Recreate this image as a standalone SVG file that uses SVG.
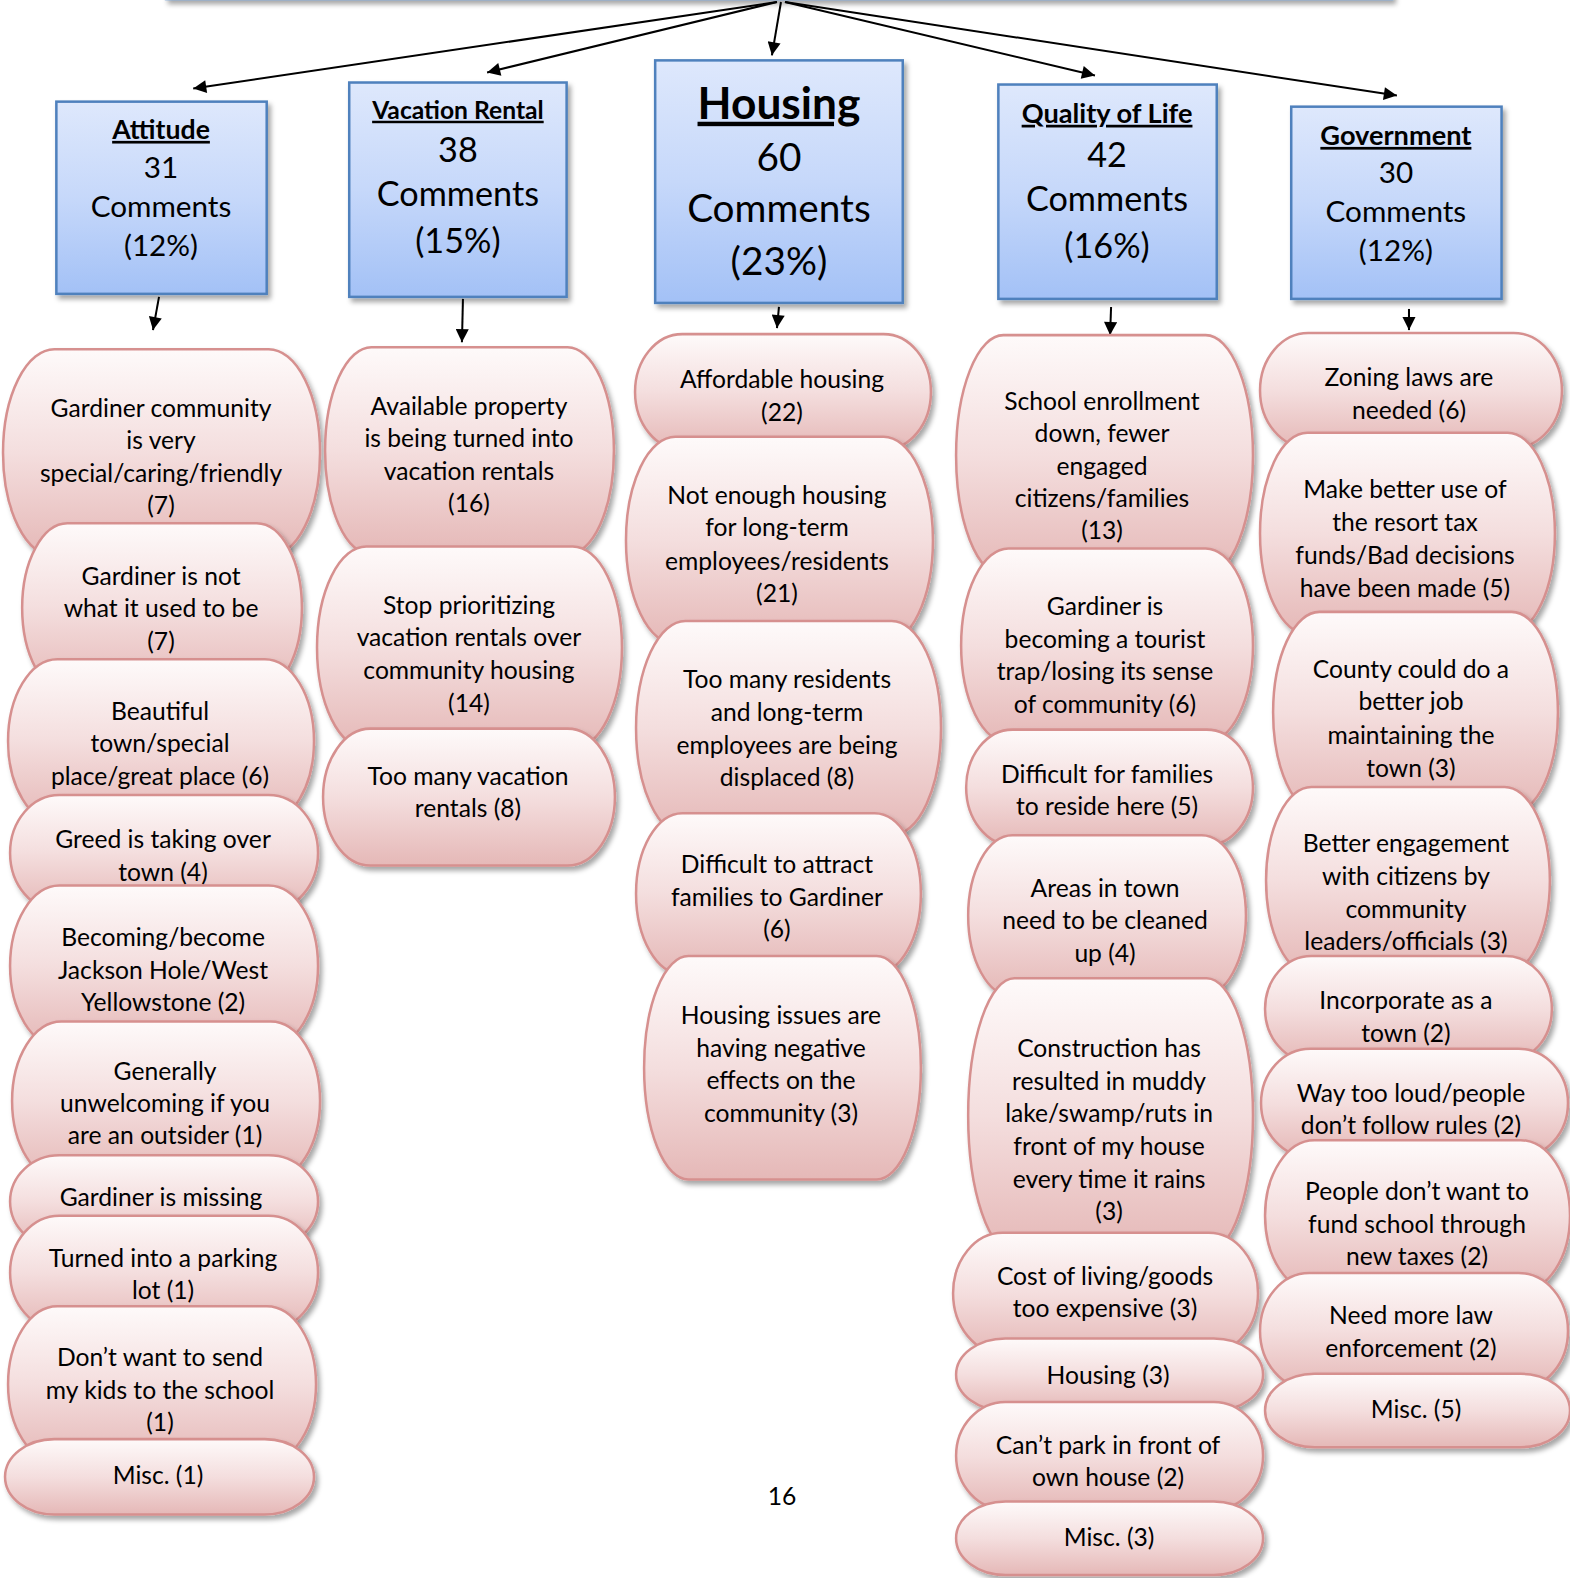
<svg xmlns="http://www.w3.org/2000/svg" width="1570" height="1578" viewBox="0 0 1570 1578">
<defs>
<linearGradient id="pg" x1="0" y1="0" x2="0" y2="1">
<stop offset="0" stop-color="#fefafa"/>
<stop offset="0.5" stop-color="#f4dede"/>
<stop offset="1" stop-color="#e5b8b7"/>
</linearGradient>
<linearGradient id="bg" x1="0" y1="0" x2="0" y2="1">
<stop offset="0" stop-color="#dee8fc"/>
<stop offset="0.5" stop-color="#c6d8fa"/>
<stop offset="1" stop-color="#a3c1f6"/>
</linearGradient>
<filter id="sh" x="-10%" y="-10%" width="130%" height="130%">
<feDropShadow dx="3" dy="4" stdDeviation="2.5" flood-color="#000" flood-opacity="0.35"/>
</filter>
<marker id="ah" viewBox="0 0 10 10" refX="10" refY="5" markerWidth="15" markerHeight="13" markerUnits="userSpaceOnUse" orient="auto">
<path d="M0,0 L10,5 L0,10 z" fill="#000"/>
</marker>
<style>
.p{fill:url(#pg);stroke:#d6908f;stroke-width:2.5;filter:url(#sh)}
.b{fill:url(#bg);stroke:#4f81bd;stroke-width:2.5;filter:url(#sh)}
.c{fill:none;stroke:#000;stroke-width:2;marker-end:url(#ah)}
text{font-family:Lato,"Open Sans",sans-serif;fill:#000;text-anchor:middle}
.t{font-size:24.5px}
.h{font-weight:bold;text-decoration:underline}
</style>
</defs>
<g transform="scale(1.00641,1.00638)">
<rect x="165" y="-80" width="1218" height="79" class="b"/>
<g id="connectors">
<line x1="772" y1="2" x2="192" y2="88" class="c"/>
<line x1="772" y1="2" x2="484" y2="72" class="c"/>
<line x1="776" y1="2" x2="767" y2="55" class="c"/>
<line x1="780" y1="2" x2="1088" y2="75" class="c"/>
<line x1="780" y1="2" x2="1388" y2="95" class="c"/>
<line x1="158" y1="295" x2="152" y2="328" class="c"/>
<line x1="460" y1="297" x2="459" y2="340" class="c"/>
<line x1="774" y1="305" x2="772" y2="326" class="c"/>
<line x1="1104" y1="305" x2="1103" y2="333" class="c"/>
<line x1="1400" y1="307" x2="1400" y2="328" class="c"/>
</g>

<g id="attitude">
<rect x="56" y="101" width="209" height="191" class="b"/>
<text x="160" y="138" class="h" font-size="26.5">Attitude</text>
<text x="160" y="177" font-size="29.5">31</text>
<text x="160" y="216" font-size="29.5">Comments</text>
<text x="160" y="254" font-size="29.5">(12%)</text>
</g>
<g id="vacation-rental">
<rect x="347" y="82" width="216" height="213" class="b"/>
<text x="455" y="118" class="h" font-size="24.5">Vacation Rental</text>
<text x="455" y="161" font-size="34">38</text>
<text x="455" y="205" font-size="34">Comments</text>
<text x="455" y="251" font-size="34">(15%)</text>
</g>
<g id="housing">
<rect x="651" y="60" width="246" height="241" class="b"/>
<text x="774" y="118" class="h" font-size="44">Housing</text>
<text x="774" y="170" font-size="38.5">60</text>
<text x="774" y="221" font-size="38.5">Comments</text>
<text x="774" y="273" font-size="38.5">(23%)</text>
</g>
<g id="quality-of-life">
<rect x="992" y="84" width="217" height="213" class="b"/>
<text x="1100" y="122" class="h" font-size="27">Quality of Life</text>
<text x="1100" y="166" font-size="34">42</text>
<text x="1100" y="210" font-size="34">Comments</text>
<text x="1100" y="256" font-size="34">(16%)</text>
</g>
<g id="government">
<rect x="1283" y="106" width="209" height="191" class="b"/>
<text x="1387" y="144" class="h" font-size="27">Government</text>
<text x="1387" y="182" font-size="29.5">30</text>
<text x="1387" y="221" font-size="29.5">Comments</text>
<text x="1387" y="259" font-size="29.5">(12%)</text>
</g>

<g id="a1"><rect x="3" y="347" width="315" height="206" rx="51" ry="103" class="p"/><text class="t" x="160"><tspan x="160" y="414">Gardiner community</tspan><tspan x="160" y="446">is very</tspan><tspan x="160" y="479">special/caring/friendly</tspan><tspan x="160" y="511">(7)</tspan></text></g>
<g id="a2"><rect x="22" y="520" width="278" height="168" rx="45" ry="84" class="p"/><text class="t"><tspan x="160" y="581">Gardiner is not</tspan><tspan x="160" y="613">what it used to be</tspan><tspan x="160" y="646">(7)</tspan></text></g>
<g id="a3"><rect x="8" y="655" width="304" height="163" rx="49" ry="81.5" class="p"/><text class="t"><tspan x="159" y="715">Beautiful</tspan><tspan x="159" y="747">town/special</tspan><tspan x="159" y="780">place/great place (6)</tspan></text></g>
<g id="a4"><rect x="10" y="790" width="306" height="115" rx="49" ry="57.5" class="p"/><text class="t"><tspan x="162" y="843">Greed is taking over</tspan><tspan x="162" y="875">town (4)</tspan></text></g>
<g id="a5"><rect x="10" y="880" width="306" height="160" rx="49" ry="80" class="p"/><text class="t"><tspan x="162" y="940">Becoming/become</tspan><tspan x="162" y="973">Jackson Hole/West</tspan><tspan x="162" y="1005">Yellowstone (2)</tspan></text></g>
<g id="a6"><rect x="12" y="1015" width="306" height="158" rx="49" ry="79" class="p"/><text class="t"><tspan x="164" y="1073">Generally</tspan><tspan x="164" y="1105">unwelcoming if you</tspan><tspan x="164" y="1137">are an outsider (1)</tspan></text></g>
<g id="a7"><rect x="10" y="1148" width="306" height="92" rx="49" ry="46" class="p"/><text class="t"><tspan x="160" y="1198">Gardiner is missing</tspan></text></g>
<g id="a8"><rect x="10" y="1208" width="306" height="113" rx="49" ry="56.5" class="p"/><text class="t"><tspan x="162" y="1259">Turned into a parking</tspan><tspan x="162" y="1291">lot (1)</tspan></text></g>
<g id="a9"><rect x="8" y="1298" width="306" height="155" rx="49" ry="77.5" class="p"/><text class="t"><tspan x="159" y="1357">Don’t want to send</tspan><tspan x="159" y="1390">my kids to the school</tspan><tspan x="159" y="1422">(1)</tspan></text></g>
<g id="a10"><rect x="5" y="1430" width="307" height="75" rx="49" ry="37.5" class="p"/><text class="t"><tspan x="157" y="1475">Misc. (1)</tspan></text></g>

<g id="v1"><rect x="323" y="345" width="287" height="206" rx="46" ry="103" class="p"/><text class="t"><tspan x="466" y="412">Available property</tspan><tspan x="466" y="444">is being turned into</tspan><tspan x="466" y="477">vacation rentals</tspan><tspan x="466" y="509">(16)</tspan></text></g>
<g id="v2"><rect x="315" y="543" width="303" height="201" rx="49" ry="100.5" class="p"/><text class="t"><tspan x="466" y="610">Stop prioritizing</tspan><tspan x="466" y="642">vacation rentals over</tspan><tspan x="466" y="675">community housing</tspan><tspan x="466" y="707">(14)</tspan></text></g>
<g id="v3"><rect x="321" y="724" width="290" height="136" rx="47" ry="68" class="p"/><text class="t"><tspan x="465" y="780">Too many vacation</tspan><tspan x="465" y="812">rentals (8)</tspan></text></g>

<g id="h1"><rect x="631" y="332" width="294" height="115" rx="47" ry="57.5" class="p"/><text class="t"><tspan x="777" y="386">Affordable housing</tspan><tspan x="777" y="418">(22)</tspan></text></g>
<g id="h2"><rect x="622" y="434" width="305" height="206" rx="49" ry="103" class="p"/><text class="t"><tspan x="772" y="501">Not enough housing</tspan><tspan x="772" y="533">for long-term</tspan><tspan x="772" y="566">employees/residents</tspan><tspan x="772" y="598">(21)</tspan></text></g>
<g id="h3"><rect x="632" y="617" width="303" height="213" rx="49" ry="106.5" class="p"/><text class="t"><tspan x="782" y="684">Too many residents</tspan><tspan x="782" y="716">and long-term</tspan><tspan x="782" y="749">employees are being</tspan><tspan x="782" y="781">displaced (8)</tspan></text></g>
<g id="h4"><rect x="632" y="808" width="283" height="160" rx="46" ry="80" class="p"/><text class="t"><tspan x="772" y="867">Difficult to attract</tspan><tspan x="772" y="900">families to Gardiner</tspan><tspan x="772" y="932">(6)</tspan></text></g>
<g id="h5"><rect x="640" y="950" width="275" height="222" rx="44" ry="111" class="p"/><text class="t"><tspan x="776" y="1018">Housing issues are</tspan><tspan x="776" y="1050">having negative</tspan><tspan x="776" y="1082">effects on the</tspan><tspan x="776" y="1115">community (3)</tspan></text></g>

<g id="q1"><rect x="950" y="333" width="295" height="239" rx="47" ry="119.5" class="p"/><text class="t"><tspan x="1095" y="407">School enrollment</tspan><tspan x="1095" y="439">down, fewer</tspan><tspan x="1095" y="472">engaged</tspan><tspan x="1095" y="504">citizens/families</tspan><tspan x="1095" y="536">(13)</tspan></text></g>
<g id="q2"><rect x="955" y="545" width="290" height="193" rx="47" ry="96.5" class="p"/><text class="t"><tspan x="1098" y="611">Gardiner is</tspan><tspan x="1098" y="644">becoming a tourist</tspan><tspan x="1098" y="676">trap/losing its sense</tspan><tspan x="1098" y="708">of community (6)</tspan></text></g>
<g id="q3"><rect x="960" y="725" width="285" height="115" rx="46" ry="57.5" class="p"/><text class="t"><tspan x="1100" y="778">Difficult for families</tspan><tspan x="1100" y="810">to reside here (5)</tspan></text></g>
<g id="q4"><rect x="962" y="830" width="276" height="160" rx="44" ry="80" class="p"/><text class="t"><tspan x="1098" y="891">Areas in town</tspan><tspan x="1098" y="923">need to be cleaned</tspan><tspan x="1098" y="956">up (4)</tspan></text></g>
<g id="q5"><rect x="962" y="972" width="283" height="273" rx="46" ry="136.5" class="p"/><text class="t"><tspan x="1102" y="1050">Construction has</tspan><tspan x="1102" y="1083">resulted in muddy</tspan><tspan x="1102" y="1115">lake/swamp/ruts in</tspan><tspan x="1102" y="1148">front of my house</tspan><tspan x="1102" y="1180">every time it rains</tspan><tspan x="1102" y="1212">(3)</tspan></text></g>
<g id="q6"><rect x="947" y="1225" width="303" height="120" rx="49" ry="60" class="p"/><text class="t"><tspan x="1098" y="1277">Cost of living/goods</tspan><tspan x="1098" y="1309">too expensive (3)</tspan></text></g>
<g id="q7"><rect x="950" y="1330" width="305" height="72" rx="49" ry="36" class="p"/><text class="t"><tspan x="1101" y="1375">Housing (3)</tspan></text></g>
<g id="q8"><rect x="950" y="1393" width="305" height="107" rx="49" ry="53.5" class="p"/><text class="t"><tspan x="1101" y="1445">Can’t park in front of</tspan><tspan x="1101" y="1477">own house (2)</tspan></text></g>
<g id="q9"><rect x="950" y="1492" width="305" height="73" rx="49" ry="36.5" class="p"/><text class="t"><tspan x="1102" y="1536">Misc. (3)</tspan></text></g>

<g id="g1"><rect x="1252" y="331" width="300" height="114" rx="48" ry="57" class="p"/><text class="t"><tspan x="1400" y="384">Zoning laws are</tspan><tspan x="1400" y="416">needed (6)</tspan></text></g>
<g id="g2"><rect x="1252" y="430" width="293" height="200" rx="47" ry="100" class="p"/><text class="t"><tspan x="1396" y="495">Make better use of</tspan><tspan x="1396" y="528">the resort tax</tspan><tspan x="1396" y="560">funds/Bad decisions</tspan><tspan x="1396" y="593">have been made (5)</tspan></text></g>
<g id="g3"><rect x="1265" y="608" width="283" height="200" rx="46" ry="100" class="p"/><text class="t"><tspan x="1402" y="674">County could do a</tspan><tspan x="1402" y="706">better job</tspan><tspan x="1402" y="739">maintaining the</tspan><tspan x="1402" y="772">town (3)</tspan></text></g>
<g id="g4"><rect x="1258" y="782" width="282" height="186" rx="45" ry="93" class="p"/><text class="t"><tspan x="1397" y="847">Better engagement</tspan><tspan x="1397" y="879">with citizens by</tspan><tspan x="1397" y="912">community</tspan><tspan x="1397" y="944">leaders/officials (3)</tspan></text></g>
<g id="g5"><rect x="1257" y="950" width="285" height="105" rx="46" ry="52.5" class="p"/><text class="t"><tspan x="1397" y="1003">Incorporate as a</tspan><tspan x="1397" y="1035">town (2)</tspan></text></g>
<g id="g6"><rect x="1253" y="1042" width="305" height="108" rx="49" ry="54" class="p"/><text class="t"><tspan x="1402" y="1095">Way too loud/people</tspan><tspan x="1402" y="1127">don’t follow rules (2)</tspan></text></g>
<g id="g7"><rect x="1257" y="1133" width="303" height="150" rx="49" ry="75" class="p"/><text class="t"><tspan x="1408" y="1192">People don’t want to</tspan><tspan x="1408" y="1225">fund school through</tspan><tspan x="1408" y="1257">new taxes (2)</tspan></text></g>
<g id="g8"><rect x="1252" y="1265" width="306" height="115" rx="49" ry="57.5" class="p"/><text class="t"><tspan x="1402" y="1316">Need more law</tspan><tspan x="1402" y="1348">enforcement (2)</tspan></text></g>
<g id="g9"><rect x="1257" y="1365" width="303" height="73" rx="49" ry="36.5" class="p"/><text class="t"><tspan x="1407" y="1409">Misc. (5)</tspan></text></g>

<text x="777" y="1495" class="t">16</text>
</g>
</svg>
